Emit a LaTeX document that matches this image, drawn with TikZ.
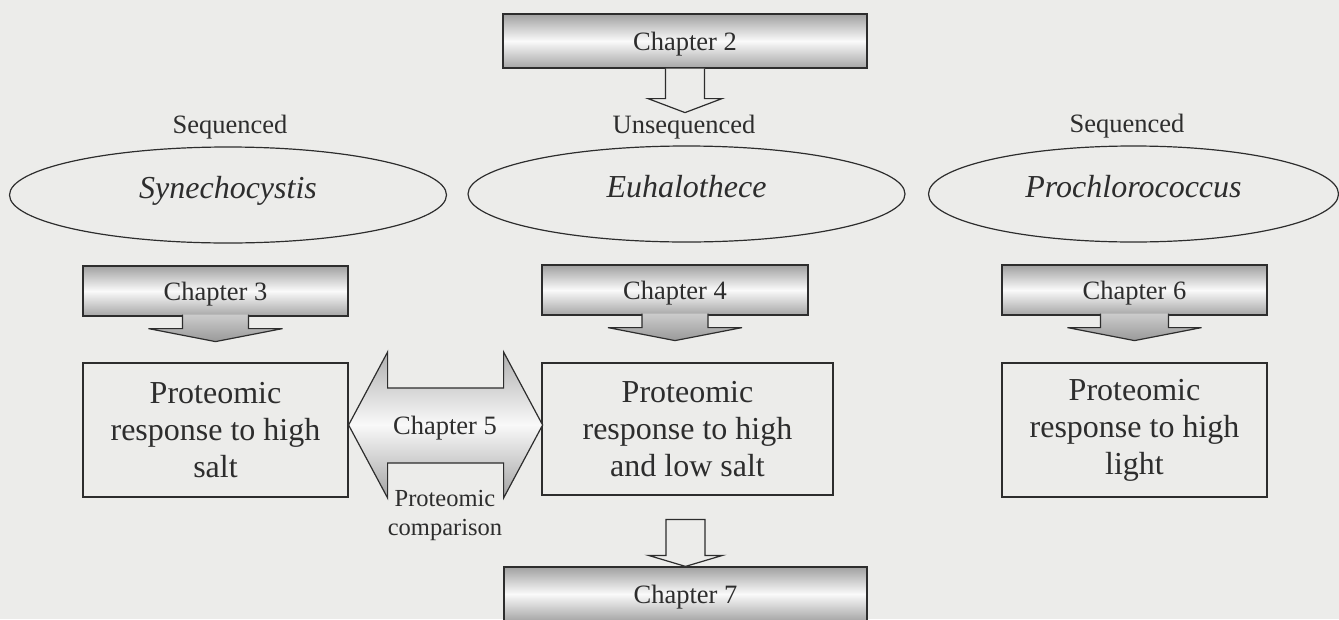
\documentclass[tikz,border=0pt]{standalone}
\usepackage{fontspec}
\setmainfont{Liberation Serif}
\usetikzlibrary{shapes.geometric,calc,positioning}
\definecolor{paper}{RGB}{236,236,234}
\definecolor{ink}{RGB}{45,45,45}

\begin{document}
\begin{tikzpicture}[x=1pt, y=-1pt, line join=miter,
    every node/.style={text=ink},
    chapbox/.style={draw=ink, line width=1.2pt, top color=gray!74, bottom color=gray!70, middle color=gray!4, minimum height=50pt, text height=25pt, text depth=5.75pt, font=\fontsize{26.5}{31}\selectfont},
    resbox/.style={draw=ink, line width=1.2pt, minimum width=265pt, minimum height=134pt, align=center, font=\fontsize{32}{37}\selectfont},
    organism/.style={ellipse, draw=ink, line width=1.2pt, minimum width=437pt, minimum height=96pt, text height=21.9pt, text depth=14pt, font=\fontsize{32}{37}\selectfont\itshape},
    tag/.style={inner sep=0pt, font=\fontsize{26.5}{31}\selectfont},
    hollowarr/.style={draw=ink, line width=1.2pt, fill=paper},
    callarr/.style={draw=ink, line width=1.2pt, top color=gray!40, bottom color=gray!80},
    dblarr/.style={draw=ink, line width=1.2pt, top color=gray!62, bottom color=gray!72, middle color=gray!5}]
        \path[use as bounding box, fill=paper] (0,0) rectangle (1339,619);

        \node[chapbox, minimum width=364pt, minimum height=54pt] (ch2) at (685,41) {Chapter 2};

        \node[tag] (seqL) at (230,127) {Sequenced};
        \node[tag] (unseq) at (684,127) {Unsequenced};
        \node[tag] (seqR) at (1127,126) {Sequenced};

        \node[organism] (syn) at (228,195) {Synechocystis};
        \node[organism] (euh) at (686.5,194) {Euhalothece};
        \node[organism, minimum width=410pt] (pro) at (1133.5,194) {Prochlorococcus};

        \node[chapbox, minimum width=265pt] (ch3) at (215.5,291) {Chapter 3};
        \node[chapbox, minimum width=266pt] (ch4) at (675,290) {Chapter 4};
        \node[chapbox, minimum width=265pt] (ch6) at (1134.5,290) {Chapter 6};

        \node[resbox] (salt) at (215.5,430) {Proteomic\\response to high\\salt};
        \node[resbox, minimum width=291pt, minimum height=132pt] (both) at (687.5,429) {Proteomic\\response to high\\and low salt};
        \node[resbox] (light) at (1134.5,430) {Proteomic\\response to high\\light};

        \node[chapbox, minimum width=363pt, minimum height=54pt] (ch7) at (685.5,594) {Chapter 7};

        % Block arrows
        \draw[hollowarr] ([xshift=-19.5pt]ch2.south) -- ++(0,30) -- ++(-17.5,0) -- ++(37,14) -- ++(37,-14) -- ++(-17.5,0) -- ++(0,-30);
        \draw[callarr] ([xshift=-33pt, yshift=2pt]ch3.south) -- ++(0,14) -- ++(-34,0) -- ++(67,13) -- ++(67,-13) -- ++(-34,0) -- ++(0,-14);
        \draw[callarr] ([xshift=-33pt, yshift=2pt]ch4.south) -- ++(0,14) -- ++(-34,0) -- ++(67,13) -- ++(67,-13) -- ++(-34,0) -- ++(0,-14);
        \draw[callarr] ([xshift=-34pt, yshift=2pt]ch6.south) -- ++(0,14) -- ++(-33,0) -- ++(67,13) -- ++(67,-13) -- ++(-33,0) -- ++(0,-14);
        \draw[dblarr] ($(salt.east)+(0,-5)$) -- ++(39,-73) -- ++(0,36) -- ++(116,0) -- ++(0,-36) -- ++(39,73) -- ++(-39,73) -- ++(0,-35) -- ++(-116,0) -- ++(0,35) -- cycle;
        \draw[hollowarr] (ch7.north) -- ++(-37,-11) -- ++(17.5,0) -- ++(0,-36) -- ++(39,0) -- ++(0,36) -- ++(17.5,0) -- cycle;

        \node[tag] (ch5) at (445,428) {Chapter 5};
        \node[tag, align=center, font=\fontsize{24.5}{29}\selectfont] (cmp) at (445,515) {Proteomic\\comparison};
    \end{tikzpicture}
\end{document}
